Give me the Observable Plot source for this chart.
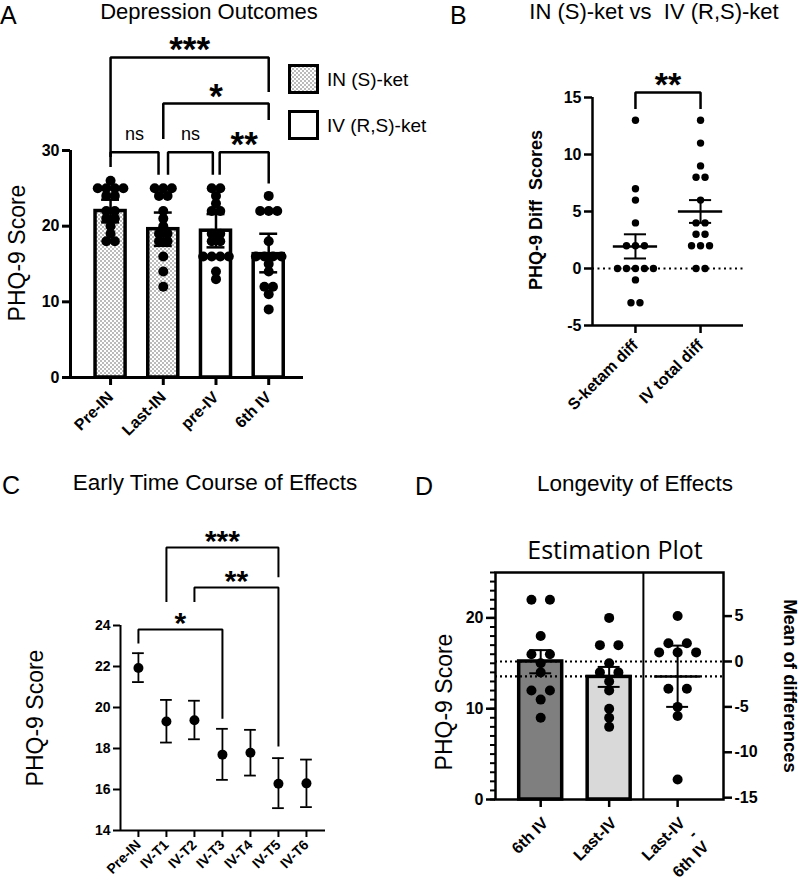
<!DOCTYPE html>
<html><head><meta charset="utf-8">
<script src="https://cdn.jsdelivr.net/npm/d3@7"></script>
<script src="https://cdn.jsdelivr.net/npm/@observablehq/plot@0.6"></script>
<style>
body{margin:0;background:#fff;}
#root{position:relative;width:800px;height:885px;overflow:hidden;background:#fff;color:#000;}
</style></head><body><div id="root"></div>
<script>
// ---------------- DATA ----------------
// Panel A: Depression Outcomes
const catsA = ["Pre-IN", "Last-IN", "pre-IV", "6th IV"];
const drugA = ["IN", "IN", "IV", "IV"];
const meanA = [22.0, 19.6, 19.4, 16.3];
const hiA = [23.5, 21.8, 21.6, 19.0];
const loA = [20.5, 17.4, 17.2, 13.9];
const ptsPreIN = [26, 25, 25, 25, 25, 24, 24, 22, 22, 21, 21, 20, 19, 18, 18];
const ptsLastIN = [25, 25, 25, 24, 24, 22, 21, 20, 19, 19, 18, 18, 16, 14, 12];
const ptsPreIV = [25, 25, 24, 23, 22, 22, 19, 19, 18, 18, 16, 16, 16, 16, 14, 13];
const pts6thIV_A = [24, 22, 22, 22, 18, 16, 16, 16, 16, 15, 14, 12, 12, 11, 9];
const bracketsA = [
  {from: 0, to: 3, top: 42.3, endL: 29.3, endR: 37.9, label: "***"},
  {from: 1, to: 3, top: 36.2, endL: 31.7, endR: 34.2, label: "*"},
  {from: 0, to: 0.91, top: 29.77, endL: 28.0, endR: 26.96, label: "ns"},
  {from: 1.09, to: 1.94, top: 29.77, endL: 26.96, endR: 26.96, label: "ns"},
  {from: 2.07, to: 3.0, top: 29.77, endL: 26.96, endR: 25.8, label: "**"}
];
const legendA = ["IN (S)-ket", "IV (R,S)-ket"];

// Panel B: IN (S)-ket vs IV (R,S)-ket
const catsB = ["S-ketam diff", "IV total diff"];
const sketDiff = [13, 7, 6, 4, 2, 2, 2, 0, 0, 0, 0, 0, -1, -3, -3];
const ivDiff = [13, 11, 9, 8, 8, 6, 4, 4, 3, 3, 2, 2, 2, 0, 0];
const meanB = [1.93, 5.0];
const hiB = [3.0, 6.0];
const loB = [0.88, 4.0];
const bracketsB = [{from: 0, to: 1, top: 15.44, endL: 14.1, endR: 14.1, label: "**"}];

// Panel C: Early Time Course of Effects
const catsC = ["Pre-IN", "IV-T1", "IV-T2", "IV-T3", "IV-T4", "IV-T5", "IV-T6"];
const meanC = [21.93, 19.32, 19.38, 17.70, 17.79, 16.28, 16.30];
const hiC = [22.65, 20.37, 20.33, 18.96, 18.91, 17.53, 17.46];
const loC = [21.24, 18.29, 18.45, 16.47, 16.68, 15.09, 15.14];
const bracketsC = [
  {from: 0, to: 3, top: 23.8, endL: 23.17, endR: 19.5, label: "*"},
  {from: 1, to: 5, top: 27.8, endL: 25.2, endR: 26.4, label: "***"},
  {from: 2, to: 5, top: 25.85, endL: 25.2, endR: 18.15, label: "**"}
];

// Panel D: Longevity of Effects (estimation plot)
const catsD = ["6th IV", "Last-IV", "Last-IV\n-\n6th IV"];
const pts6thIV_D = [22, 22, 18, 16, 16, 15, 14, 12, 12, 11, 9];
const ptsLastIV = [20, 17, 17, 15, 14, 14, 13, 12, 10, 9, 8];
const diffsD = [5, 2, 2, 1, 1, 1, -3, -3, -5, -6, -13];
const meanD = [15.2, 13.5];
const hiD = [16.45, 14.6];
const loD = [13.9, 12.4];
const diffMean = -1.65, diffHi = 1.75, diffLo = -5.0;
const rightTicksD = [5, 0, -5, -10, -15];

// ---------------- HELPERS ----------------
const FONT = '"Liberation Sans", Arial, Helvetica, sans-serif';
const root = document.getElementById("root");

function swarm(values, idx, step) {
  const n = d3.rollup(values, v => v.length, d => d), seen = new Map();
  return values.map(v => {
    const k = seen.get(v) || 0; seen.set(v, k + 1);
    return {x: idx + (k - (n.get(v) - 1) / 2) * step, y: v};
  });
}
function rows(means, lo, hi) { return means.map((m, i) => ({i, m, lo: lo[i], hi: hi[i]})); }
function errorMarks(data, cap, sw) {
  return [
    Plot.ruleX(data, {x: "i", y1: "lo", y2: "hi", stroke: "black", strokeWidth: sw}),
    Plot.ruleY(data, {y: "hi", x1: d => d.i - cap, x2: d => d.i + cap, stroke: "black", strokeWidth: sw}),
    Plot.ruleY(data, {y: "lo", x1: d => d.i - cap, x2: d => d.i + cap, stroke: "black", strokeWidth: sw})
  ];
}
function bracketMarks(brs, sw, starSize, starDy) {
  const pts = brs.flatMap((b, k) => [
    {k, x: b.from, y: b.endL}, {k, x: b.from, y: b.top}, {k, x: b.to, y: b.top}, {k, x: b.to, y: b.endR}]);
  const stars = brs.filter(b => b.label !== "ns"), ns = brs.filter(b => b.label === "ns");
  return [
    Plot.line(pts, {x: "x", y: "y", z: "k", stroke: "black", strokeWidth: sw, strokeLinejoin: "miter", strokeLinecap: "square"}),
    Plot.text(stars, {x: b => (b.from + b.to) / 2, y: "top", text: "label", lineAnchor: "bottom", dy: starDy, fontSize: starSize, fontWeight: "bold"}),
    Plot.text(ns, {x: b => (b.from + b.to) / 2, y: "top", text: "label", lineAnchor: "bottom", dy: -12, fontSize: 18})
  ];
}
function place(svg, left, top) {
  svg.style.position = "absolute";
  svg.style.left = left + "px";
  svg.style.top = top + "px";
  svg.style.overflow = "visible";
  svg.style.background = "transparent";
  root.appendChild(svg);
  return svg;
}
function label(txt, o) {
  const d = document.createElement("div");
  d.textContent = txt;
  d.style.cssText = `position:absolute;white-space:pre;line-height:1;font-size:${o.size}px;font-weight:${o.weight || "normal"};font-family:${o.family || FONT};color:#000;`;
  if (o.rot) {
    d.style.left = o.cx + "px"; d.style.top = o.cy + "px";
    d.style.transform = `translate(-50%,-50%) rotate(${o.rot}deg)`;
  } else {
    d.style.top = (o.base - 0.846 * o.size) + "px";
    if (o.cx != null) { d.style.left = o.cx + "px"; d.style.transform = "translateX(-50%)"; }
    else d.style.left = o.left + "px";
  }
  root.appendChild(d);
}
const baseStyle = {fontFamily: FONT, fontSize: "16px", color: "black", background: "transparent", overflow: "visible"};

// ---------------- PANEL A ----------------
const xDomA = [-0.76, 3.66];
const rowsA = rows(meanA, loA, hiA).map((d, i) => ({...d, drug: drugA[i]}));
const dotsA = [ptsPreIN, ptsLastIN, ptsPreIV, pts6thIV_A].flatMap((p, i) => swarm(p, i, 0.162));
const BW_A = 0.285;
const svgA = Plot.plot({
  width: 310, height: 450, marginLeft: 70, marginRight: 7, marginTop: 150, marginBottom: 73,
  x: {domain: xDomA}, y: {domain: [0, 30]}, style: baseStyle,
  marks: [
    Plot.rect(rowsA.filter(d => d.drug === "IN"), {x1: d => d.i - BW_A, x2: d => d.i + BW_A, y1: 0, y2: "m", fill: "url(#dotsPat)", stroke: "black", strokeWidth: 3.5}),
    Plot.rect(rowsA.filter(d => d.drug === "IV"), {x1: d => d.i - BW_A, x2: d => d.i + BW_A, y1: 0, y2: "m", fill: "white", stroke: "black", strokeWidth: 3.5}),
    Plot.dot(dotsA, {x: "x", y: "y", r: 5, fill: "black", stroke: "none"}),
    ...errorMarks(rowsA, 0.17, 2.5),
    ...bracketMarks(bracketsA, 2.5, 35, 4),
    Plot.ruleX([xDomA[0]], {stroke: "black", strokeWidth: 3}),
    Plot.ruleY([0], {stroke: "black", strokeWidth: 3}),
    Plot.axisY({ticks: [0, 10, 20, 30], tickFormat: d => String(d), tickSize: 8, tickPadding: 3, strokeWidth: 3, fontSize: 16, fontWeight: "bold", label: null}),
    Plot.axisX({ticks: [0, 1, 2, 3], tickFormat: i => catsA[i], tickRotate: -45, tickSize: 8, tickPadding: 9, strokeWidth: 3, fontSize: 16, fontWeight: "bold", label: null})
  ]
});
place(svgA, 0, 0);
// dotted fill pattern
const defs = d3.select(svgA).insert("defs", ":first-child");
const pat = defs.append("pattern").attr("id", "dotsPat").attr("width", 4).attr("height", 4).attr("patternUnits", "userSpaceOnUse");
pat.append("rect").attr("width", 4).attr("height", 4).attr("fill", "white");
pat.append("circle").attr("cx", 1).attr("cy", 1).attr("r", 0.75).attr("fill", "#555");
pat.append("circle").attr("cx", 3).attr("cy", 3).attr("r", 0.75).attr("fill", "#555");

// legend A
legendA.forEach((t, k) => {
  const s = d3.create("svg").attr("width", 31).attr("height", 30)
    .style("position", "absolute").style("left", "288px").style("top", (64 + k * 46) + "px");
  s.append("rect").attr("x", 1.5).attr("y", 1.5).attr("width", 28).attr("height", 27)
    .attr("fill", k === 0 ? "url(#dotsPat)" : "white").attr("stroke", "black").attr("stroke-width", 3);
  root.appendChild(s.node());
  label(t, {left: 327, base: 86 + k * 46, size: 19});
});

// ---------------- PANEL B ----------------
const xDomB = [-0.66, 1.66];
const rowsB = rows(meanB, loB, hiB);
const dotsB = [sketDiff, ivDiff].flatMap((p, i) => swarm(p, i, 0.138));
const svgB = Plot.plot({
  width: 400, height: 450, marginLeft: 192, marginRight: 57, marginTop: 97, marginBottom: 125,
  x: {domain: xDomB}, y: {domain: [-5, 15]}, style: baseStyle,
  marks: [
    Plot.ruleY([0], {stroke: "black", strokeWidth: 2, strokeDasharray: "2,3.5"}),
    Plot.dot(dotsB, {x: "x", y: "y", r: 3.7, fill: "black", stroke: "none"}),
    Plot.ruleY(rowsB, {y: "m", x1: d => d.i - 0.34, x2: d => d.i + 0.34, stroke: "black", strokeWidth: 2.5}),
    ...errorMarks(rowsB, 0.17, 2),
    ...bracketMarks(bracketsB, 2.5, 34, 4),
    Plot.ruleX([xDomB[0]], {stroke: "black", strokeWidth: 2.5}),
    Plot.ruleY([-5], {stroke: "black", strokeWidth: 2.5}),
    Plot.axisY({ticks: [-5, 0, 5, 10, 15], tickFormat: d => String(d), tickSize: 8, tickPadding: 3, strokeWidth: 2.5, fontSize: 16, fontWeight: "bold", label: null}),
    Plot.axisX({ticks: [0, 1], tickFormat: i => catsB[i], tickRotate: -45, tickSize: 8, tickPadding: 9, strokeWidth: 2.5, fontSize: 16, fontWeight: "bold", label: null})
  ]
});
place(svgB, 400, 0);

// ---------------- PANEL C ----------------
const xDomC = [-0.64, 6.68];
const rowsC = rows(meanC, loC, hiC);
const svgC = Plot.plot({
  width: 400, height: 425, marginLeft: 120, marginRight: 75, marginTop: 165, marginBottom: 55,
  x: {domain: xDomC}, y: {domain: [14, 24]}, style: baseStyle,
  marks: [
    ...errorMarks(rowsC, 0.21, 1.8),
    Plot.dot(rowsC, {x: "i", y: "m", r: 5, fill: "black", stroke: "none"}),
    ...bracketMarks(bracketsC, 2, 30, 3),
    Plot.ruleX([xDomC[0]], {stroke: "black", strokeWidth: 2}),
    Plot.ruleY([14], {stroke: "black", strokeWidth: 2}),
    Plot.axisY({ticks: [14, 16, 18, 20, 22, 24], tickFormat: d => String(d), tickSize: 7, tickPadding: 3, strokeWidth: 2, fontSize: 14, fontWeight: "bold", label: null}),
    Plot.axisX({ticks: d3.range(catsC.length), tickFormat: i => catsC[i], tickRotate: -45, tickSize: 7, tickPadding: 5, strokeWidth: 2, fontSize: 14, fontWeight: "bold", label: null})
  ]
});
place(svgC, 0, 460);

// ---------------- PANEL D ----------------
const xDomD = [-0.66, 2.67];
const ref = meanD[0];
const rowsD = rows(meanD, loD, hiD);
const dotsD = [
  ...swarm(pts6thIV_D, 0, 0.27),
  ...swarm(ptsLastIV, 1, 0.27),
  ...swarm(diffsD, 2, 0.27).map(d => ({x: d.x, y: d.y + ref}))
];
const diffRow = [{i: 2, m: ref + diffMean, lo: ref + diffLo, hi: ref + diffHi}];
const fillsD = ["#7f7f7f", "#d9d9d9"];
const svgD = Plot.plot({
  width: 400, height: 425, marginLeft: 95, marginRight: 77, marginTop: 112, marginBottom: 86,
  x: {domain: xDomD}, y: {domain: [0, 25]}, style: baseStyle,
  marks: [
    Plot.rect(rowsD, {x1: d => d.i - 0.314, x2: d => d.i + 0.314, y1: 0, y2: "m", fill: d => fillsD[d.i], stroke: "black", strokeWidth: 3.5}),
    Plot.ruleY([ref, ref + diffMean], {stroke: "black", strokeWidth: 2.2, strokeDasharray: "2,3"}),
    Plot.dot(dotsD, {x: "x", y: "y", r: 5, fill: "black", stroke: "none"}),
    ...errorMarks(rowsD, 0.16, 2),
    Plot.ruleY(diffRow, {y: "m", x1: d => d.i - 0.336, x2: d => d.i + 0.336, stroke: "black", strokeWidth: 2.5}),
    ...errorMarks(diffRow, 0.16, 2),
    Plot.ruleX([1.5], {stroke: "black", strokeWidth: 2}),
    Plot.frame({stroke: "black", strokeWidth: 2.5}),
    Plot.axisY({ticks: d3.range(0, 26), tickFormat: () => "", tickSize: 5, strokeWidth: 2, label: null}),
    Plot.axisY({ticks: [0, 10, 20], tickFormat: d => String(d), tickSize: 9, tickPadding: 3, strokeWidth: 2.5, fontSize: 16, fontWeight: "bold", label: null}),
    Plot.axisY({anchor: "right", ticks: rightTicksD.map(d => d + ref), tickFormat: v => String(Math.round(v - ref)), tickSize: 8, tickPadding: 3, strokeWidth: 2.5, fontSize: 16, fontWeight: "bold", label: null}),
    Plot.axisX({ticks: [0, 1, 2], tickFormat: () => "", tickSize: 8, strokeWidth: 2.5, label: null}),
    Plot.text(catsD, {x: (d, i) => i, frameAnchor: "bottom", dy: 16, dx: 0, rotate: -45, textAnchor: "end", lineAnchor: "top", fontSize: 16, fontWeight: "bold", lineHeight: 1.05})
  ]
});
place(svgD, 400, 460);

// ---------------- TITLES & LABELS ----------------
label("A", {left: 0, base: 24, size: 25});
label("Depression Outcomes", {cx: 209, base: 20, size: 22});
label("B", {left: 450, base: 24, size: 25});
label("IN (S)-ket vs  IV (R,S)-ket", {cx: 654, base: 20, size: 22});
label("C", {left: 2, base: 494, size: 25});
label("Early Time Course of Effects", {cx: 215, base: 491, size: 22.5});
label("D", {left: 415, base: 495, size: 25});
label("Longevity of Effects", {cx: 635, base: 492, size: 22.5});
label("Estimation Plot", {cx: 615, base: 558, size: 25, family: '"Open Sans", sans-serif'});
label("PHQ-9 Score", {cx: 17, cy: 253, size: 23, rot: -90});
label("PHQ-9 Diff  Scores", {cx: 536, cy: 210, size: 18, weight: "bold", rot: -90});
label("PHQ-9 Score", {cx: 35, cy: 718, size: 23, rot: -90});
label("PHQ-9 Score", {cx: 444, cy: 702, size: 23, rot: -90});
label("Mean of differences", {cx: 790, cy: 686, size: 18.5, weight: "bold", rot: 90});
</script></body></html>
